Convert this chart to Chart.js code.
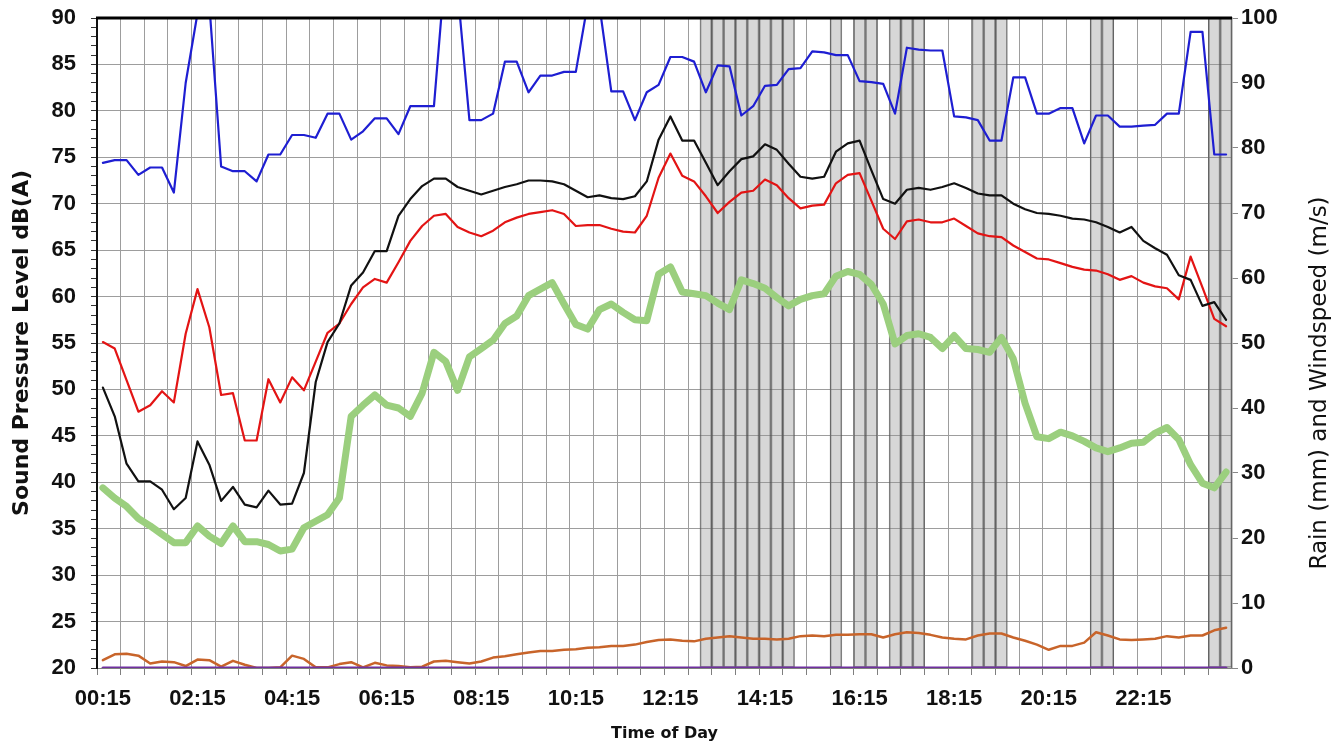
<!DOCTYPE html>
<html>
<head>
<meta charset="utf-8">
<title>Sound Pressure Level</title>
<script src="https://cdn.jsdelivr.net/npm/chart.js@4.4.1/dist/chart.umd.min.js"></script>
<style>
  html, body { margin: 0; padding: 0; background: #fff; }
  #wrap { width: 1334px; height: 748px; position: relative; }
</style>
</head>
<body>
<div id="wrap"><canvas id="noiseChart"></canvas></div>
<script>
// 时间轴：00:15 起每 15 分钟一个点，共 96 个
const times = [];
for (let m = 15; m <= 1440; m += 15) {
    const h = Math.floor(m / 60) % 24, mm = m % 60;
    times.push(String(h).padStart(2, '0') + ':' + String(mm).padStart(2, '0'));
}

// 蓝线（最大值）
const laMax = [
    74.4, 74.7, 74.7, 73.1, 73.9, 73.9, 71.2, 83.0, 90.5, 91.5, 74.0, 73.5, 73.5, 72.4, 75.3, 75.3,
    77.4, 77.4, 77.1, 79.7, 79.7, 76.9, 77.8, 79.2, 79.2, 77.5, 80.5, 80.5, 80.5, 96.0, 93.0, 79.0,
    79.0, 79.7, 85.3, 85.3, 82.0, 83.8, 83.8, 84.2, 84.2, 91.5, 91.3, 82.1, 82.1, 79.0, 82.0, 82.8,
    85.8, 85.8, 85.3, 82.0, 84.9, 84.8, 79.5, 80.5, 82.7, 82.8, 84.5, 84.6, 86.4, 86.3, 86.0, 86.0,
    83.2, 83.1, 82.9, 79.7, 86.8, 86.6, 86.5, 86.5, 79.4, 79.3, 79.0, 76.8, 76.8, 83.6, 83.6, 79.7,
    79.7, 80.3, 80.3, 76.5, 79.5, 79.5, 78.3, 78.3, 78.4, 78.5, 79.7, 79.7, 88.5, 88.5, 75.3, 75.3
];
// 黑线（L10）
const la10 = [
    50.2, 47.1, 42.0, 40.1, 40.1, 39.2, 37.1, 38.3, 44.4, 41.9, 38.0, 39.5, 37.6, 37.3, 39.1, 37.6,
    37.7, 41.0, 50.8, 55.1, 57.1, 61.2, 62.6, 64.9, 64.9, 68.7, 70.5, 71.9, 72.7, 72.7, 71.8, 71.4,
    71.0, 71.4, 71.8, 72.1, 72.5, 72.5, 72.4, 72.1, 71.4, 70.7, 70.9, 70.6, 70.5, 70.8, 72.4, 76.9,
    79.4, 76.8, 76.8, 74.4, 72.0, 73.5, 74.8, 75.1, 76.4, 75.8, 74.3, 72.9, 72.7, 72.9, 75.6, 76.5,
    76.8, 73.6, 70.5, 70.0, 71.5, 71.7, 71.5, 71.8, 72.2, 71.7, 71.1, 70.9, 70.9, 70.0, 69.4, 69.0,
    68.9, 68.7, 68.4, 68.3, 68.0, 67.5, 66.9, 67.5, 66.0, 65.2, 64.5, 62.3, 61.8, 59.0, 59.4, 57.5
];
// 红线（Leq）
const laeq = [
    55.1, 54.4, 51.0, 47.6, 48.3, 49.8, 48.6, 56.0, 60.8, 56.7, 49.4, 49.6, 44.5, 44.5, 51.1, 48.6,
    51.3, 49.9, 53.0, 56.1, 57.1, 59.2, 61.0, 61.9, 61.5, 63.7, 66.0, 67.6, 68.7, 68.9, 67.5, 66.9,
    66.5, 67.1, 68.0, 68.5, 68.9, 69.1, 69.3, 68.9, 67.6, 67.7, 67.7, 67.3, 67.0, 66.9, 68.7, 72.8,
    75.4, 73.0, 72.4, 70.8, 69.0, 70.2, 71.2, 71.4, 72.6, 72.0, 70.6, 69.5, 69.8, 69.9, 72.2, 73.1,
    73.3, 70.3, 67.3, 66.2, 68.1, 68.3, 68.0, 68.0, 68.4, 67.6, 66.8, 66.5, 66.4, 65.5, 64.8, 64.1,
    64.0, 63.6, 63.2, 62.9, 62.8, 62.4, 61.8, 62.2, 61.5, 61.1, 60.9, 59.7, 64.3, 61.0, 57.6, 56.8
];
// 绿线（L90）
const la90 = [
    39.4, 38.3, 37.4, 36.1, 35.3, 34.4, 33.5, 33.5, 35.3, 34.2, 33.4, 35.3, 33.6, 33.6, 33.3, 32.6,
    32.8, 35.1, 35.8, 36.5, 38.3, 47.1, 48.3, 49.4, 48.3, 48.0, 47.1, 49.6, 54.0, 53.0, 49.9, 53.5,
    54.4, 55.3, 57.1, 57.9, 60.1, 60.8, 61.5, 59.2, 57.0, 56.5, 58.6, 59.2, 58.3, 57.5, 57.4, 62.4,
    63.2, 60.5, 60.3, 60.1, 59.3, 58.6, 61.8, 61.4, 60.9, 59.9, 59.0, 59.7, 60.1, 60.3, 62.2, 62.7,
    62.4, 61.3, 59.2, 54.9, 55.8, 56.0, 55.6, 54.4, 55.8, 54.4, 54.3, 54.0, 55.6, 53.3, 48.5, 44.9,
    44.7, 45.4, 45.0, 44.4, 43.7, 43.3, 43.7, 44.2, 44.3, 45.3, 45.9, 44.6, 41.9, 39.9, 39.4, 41.1
];
// 橙线（风速 m/s，右轴）
const windSpeed = [
    1.2, 2.1, 2.2, 1.9, 0.7, 1.0, 0.9, 0.3, 1.3, 1.2, 0.2, 1.1, 0.5, 0.0, 0.0, 0.1,
    1.9, 1.4, 0.1, 0.1, 0.6, 0.9, 0.1, 0.8, 0.4, 0.3, 0.1, 0.2, 1.0, 1.1, 0.9, 0.7,
    1.0, 1.6, 1.8, 2.1, 2.4, 2.6, 2.6, 2.8, 2.9, 3.1, 3.2, 3.4, 3.4, 3.6, 4.0, 4.3,
    4.4, 4.2, 4.1, 4.5, 4.7, 4.9, 4.7, 4.5, 4.5, 4.4, 4.5, 4.9, 5.0, 4.9, 5.1, 5.1,
    5.2, 5.2, 4.7, 5.2, 5.5, 5.4, 5.1, 4.7, 4.5, 4.4, 5.0, 5.3, 5.3, 4.7, 4.2, 3.6,
    2.8, 3.4, 3.4, 3.9, 5.5, 5.0, 4.4, 4.3, 4.4, 4.5, 4.9, 4.7, 5.0, 5.0, 5.8, 6.2
];
// 紫线（降雨 mm，右轴）
const rainfall = [
    0, 0, 0, 0, 0, 0, 0, 0, 0, 0, 0, 0, 0, 0, 0, 0, 0, 0, 0, 0, 0, 0, 0, 0,
    0, 0, 0, 0, 0, 0, 0, 0, 0, 0, 0, 0, 0, 0, 0, 0, 0, 0, 0, 0, 0, 0, 0, 0,
    0, 0, 0, 0, 0, 0, 0, 0, 0, 0, 0, 0, 0, 0, 0, 0, 0, 0, 0, 0, 0, 0, 0, 0,
    0, 0, 0, 0, 0, 0, 0, 0, 0, 0, 0, 0, 0, 0, 0, 0, 0, 0, 0, 0, 0, 0, 0, 0
];
// 灰色阴影时段（1 = 阴影）
const shadedPeriods = [
    0, 0, 0, 0, 0, 0, 0, 0, 0, 0, 0, 0, 0, 0, 0, 0, 0, 0, 0, 0, 0, 0, 0, 0,
    0, 0, 0, 0, 0, 0, 0, 0, 0, 0, 0, 0, 0, 0, 0, 0, 0, 0, 0, 0, 0, 0, 0, 0,
    0, 0, 0, 1, 1, 1, 1, 1, 1, 1, 1, 0, 0, 0, 1, 0, 1, 1, 0, 1, 1, 1, 0, 0,
    0, 0, 1, 1, 1, 0, 0, 0, 0, 0, 0, 0, 1, 1, 0, 0, 0, 0, 0, 0, 0, 0, 1, 1
];

const tickFont = { family: 'Liberation Sans', size: 22, weight: 'bold' };// 刻度字体
const gridGray = '#9d9d9d';// 网格线颜色
const clear = 'rgba(0,0,0,0)';

// 右轴标题（从下往上读）和上边框
const framePlugin = {
    id: 'framePlugin',
    afterDatasetsDraw(chart) {
        const { ctx, chartArea } = chart;
        ctx.save();
        ctx.strokeStyle = '#000';
        ctx.lineWidth = 3;
        ctx.beginPath();
        ctx.moveTo(chartArea.left - 1, chartArea.top);
        ctx.lineTo(chartArea.right, chartArea.top);
        ctx.stroke();
        ctx.restore();
    },
    afterDraw(chart) {
        const { ctx, chartArea } = chart;
        ctx.save();
        ctx.translate(chart.width - 14, (chartArea.top + chartArea.bottom) / 2 + 40);
        ctx.rotate(-Math.PI / 2);
        ctx.fillStyle = '#111';
        ctx.font = '23px "DejaVu Sans"';
        ctx.textAlign = 'center';
        ctx.textBaseline = 'middle';
        ctx.fillText('Rain (mm) and Windspeed (m/s)', 0, 0);
        ctx.restore();
    }
};

function lineSet(label, data, color, width, axis, order) {
    return {
        type: 'line', label: label, data: data, yAxisID: axis, order: order,
        borderColor: color, backgroundColor: color, borderWidth: width,
        pointRadius: 0, tension: 0, fill: false,
        borderJoinStyle: 'round', borderCapStyle: 'round'
    };
}

// 固定纵轴宽度，去掉标签引起的上下留白
function fixWidth(w) {
    return s => { s.width = w; s.paddingTop = 0; s.paddingBottom = 0; };
}

new Chart(document.getElementById('noiseChart').getContext('2d'), {
    type: 'line',
    data: {
        labels: times,
        datasets: [
            lineSet('Rain', rainfall, '#7030a0', 3, 'y2', 1),
            lineSet('LAmax', laMax, '#1e1ed2', 2.2, 'y', 2),
            lineSet('LA10', la10, '#111111', 2.2, 'y', 3),
            lineSet('LAeq', laeq, '#e31414', 2.2, 'y', 4),
            lineSet('Windspeed', windSpeed, '#c8642a', 2.5, 'y2', 5),
            lineSet('LA90', la90, '#9bcf7e', 7, 'y', 6),
            {
                type: 'bar', label: 'Shaded', yAxisID: 'y2', order: 10,
                data: shadedPeriods.map(f => (f ? 100 : null)),
                backgroundColor: 'rgba(150,150,150,0.38)',
                borderColor: 'rgba(80,80,80,0.75)',
                borderWidth: 1, borderSkipped: false,
                barPercentage: 1, categoryPercentage: 1
            }
        ]
    },
    options: {
        responsive: true,
        maintainAspectRatio: false,
        animation: false,
        layout: { padding: { top: 18, left: 0, right: 0, bottom: 0 } },
        plugins: { legend: { display: false }, tooltip: { enabled: false } },
        scales: {
            x: {
                type: 'category',
                offset: true,
                grid: {
                    offset: true,
                    color: c => (c.index % 2 === 0 ? gridGray : clear),
                    tickColor: c => (c.index % 2 === 0 ? '#7f7f7f' : clear),
                    tickLength: 7
                },
                border: { color: '#7f7f7f', width: 1 },
                ticks: {
                    autoSkip: false, maxRotation: 0, minRotation: 0,
                    padding: 11, color: '#111', font: tickFont,
                    callback: (v, i) => (i % 8 === 0 ? times[i] : '')
                },
                title: {
                    display: true, text: 'Time of Day', color: '#111',
                    font: { family: 'DejaVu Sans', size: 16, weight: 'bold' },
                    padding: { top: 0, bottom: 5 }
                },
                afterFit: s => { s.height = 80; }
            },
            y: {
                position: 'left', min: 20, max: 90,
                grid: {
                    color: c => (c.tick && c.tick.value % 5 === 0 ? gridGray : clear),
                    tickColor: '#333', tickLength: 6
                },
                border: { color: '#111', width: 2 },
                ticks: {
                    stepSize: 1, autoSkip: false, padding: 15, color: '#111', font: tickFont,
                    callback: v => (v % 5 === 0 ? v : '')
                },
                title: {
                    display: true, text: 'Sound Pressure Level dB(A)', color: '#111',
                    font: { family: 'DejaVu Sans', size: 22, weight: 'bold' },
                    padding: { top: 9, bottom: 0 }
                },
                afterFit: fixWidth(97)
            },
            y2: {
                position: 'right', min: 0, max: 100,
                grid: { drawOnChartArea: false, tickColor: '#888', tickLength: 6 },
                border: { color: '#8a8a8a', width: 1.5 },
                ticks: { stepSize: 10, padding: 3, color: '#111', font: tickFont },
                afterFit: fixWidth(102)
            }
        }
    },
    plugins: [framePlugin]
});
</script>
</body>
</html>
